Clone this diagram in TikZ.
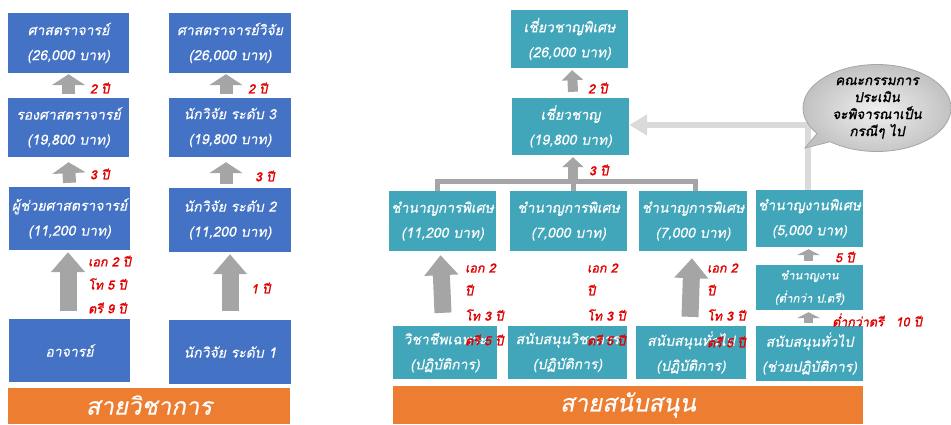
\documentclass[tikz,border=0pt]{standalone}
\usepackage{fontspec}
\newfontfamily\thi[Script=Thai,FakeSlant=0.2,FakeBold=0.4]{Loma}
\newfontfamily\thbi[Script=Thai,FakeSlant=0.2,FakeBold=1.6]{Loma}
\usetikzlibrary{arrows.meta,shapes.callouts,shadings}
\definecolor{bluebox}{RGB}{68,114,196}
\definecolor{tealbox}{RGB}{65,166,186}
\definecolor{orangebar}{RGB}{237,125,49}
\definecolor{arrowgray}{RGB}{165,165,165}
\definecolor{lightgraytwo}{RGB}{218,218,218}
\definecolor{redlab}{RGB}{225,0,0}
\tikzset{
 box/.style={text=white, inner sep=0pt, align=center, font=\thi\fontsize{14}{25}\selectfont},
 bluebx/.style={box, fill=bluebox},
 tealbx/.style={box, fill=tealbox},
 barbx/.style={fill=orangebar, text=white, inner sep=0pt, font=\thi\fontsize{24}{28}\selectfont},
 bigup/.style={draw=arrowgray, line width=17pt, -{Triangle[width=33pt,length=20pt]}},
 smallup/.style={draw=arrowgray, line width=13pt, -{Triangle[width=33pt,length=11pt]}},
 midup/.style={draw=arrowgray, line width=10pt, -{Triangle[width=21pt,length=10pt]}},
 tinyup/.style={draw=arrowgray, line width=9pt, -{Triangle[width=23pt,length=6pt]}},
 lab/.style={text=redlab, anchor=west, inner sep=0pt, font=\thbi\fontsize{12.5}{14}\selectfont},
 barline/.style={draw=arrowgray, line width=5pt},
 lgline/.style={draw=lightgraytwo, line width=6pt, -{Triangle[width=20pt,length=18pt]}},
}
\begin{document}
\begin{tikzpicture}[x=1pt,y=-1pt]
\useasboundingbox (0,0) rectangle (951,424);
% left: academic
\node[bluebx, minimum width=121pt, minimum height=60pt] (L1) at (68.5,43) {ศาสตราจารย์\\(26,000 บาท)};
\node[bluebx, minimum width=121pt, minimum height=59pt] (L2) at (68.5,127.5) {รองศาสตราจารย์\\(19,800 บาท)};
\node[bluebx, minimum width=121pt, minimum height=63pt] (L3) at (69.5,218.5) {ผู้ช่วยศาสตราจารย์\\(11,200 บาท)};
\node[bluebx, minimum width=121pt, minimum height=63pt] (L4) at (69.5,350.5) {อาจารย์};
\node[bluebx, minimum width=122pt, minimum height=60pt] (R1) at (230,43) {ศาสตราจารย์วิจัย\\(26,000 บาท)};
\node[bluebx, minimum width=122pt, minimum height=59pt] (R2) at (230,127.5) {นักวิจัย ระดับ 3\\(19,800 บาท)};
\node[bluebx, minimum width=122pt, minimum height=64pt] (R3) at (230,220) {นักวิจัย ระดับ 2\\(11,200 บาท)};
\node[bluebx, minimum width=122pt, minimum height=64pt] (R4) at (230,352) {นักวิจัย ระดับ 1};
\node[barbx, minimum width=282pt, minimum height=36pt] (SL) at (149,406) {\raisebox{2pt}{สายวิชาการ}};
\draw[smallup] ([yshift=4pt]L2.north) -- ([yshift=-1pt]L1.south);
\draw[smallup] ([yshift=4pt]L3.north) -- ([yshift=-5pt]L2.south);
\draw[bigup] ([xshift=-1.5pt,yshift=8pt]L4.north) -- ([xshift=-1.5pt,yshift=-2pt]L3.south);
\draw[smallup] ([xshift=-4pt,yshift=4pt]R2.north) -- ([xshift=-4pt,yshift=-1pt]R1.south);
\draw[smallup] ([xshift=-4pt,yshift=4pt]R3.north) -- ([xshift=-4pt,yshift=-5pt]R2.south);
\draw[bigup] ([yshift=9pt]R4.north) -- ([yshift=-2pt]R3.south);
\node[lab] (la1) at (90,88) {2 ปี};
\node[lab] (la2) at (90,174) {3 ปี};
\node[lab] (la3) at (88,261) {เอก 2 ปี};
\node[lab] (la4) at (88,284) {โท 5 ปี};
\node[lab] (la5) at (88,308) {ตรี 9 ปี};
\node[lab] (lb1) at (248,88) {2 ปี};
\node[lab] (lb2) at (255,176) {3 ปี};
\node[lab] (lb3) at (251,288) {1 ปี};
% right: support
\node[tealbx, minimum width=117pt, minimum height=58pt] (E1) at (569.5,39) {เชี่ยวชาญพิเศษ\\(26,000 บาท)};
\node[tealbx, minimum width=117pt, minimum height=57pt] (E2) at (570.5,126.5) {เชี่ยวชาญ\\(19,800 บาท)};
\node[tealbx, minimum width=107pt, minimum height=60pt] (A1) at (442.5,221) {ชำนาญการพิเศษ\\(11,200 บาท)};
\node[tealbx, minimum width=117pt, minimum height=60pt] (B1) at (568.5,221) {ชำนาญการพิเศษ\\(7,000 บาท)};
\node[tealbx, minimum width=108pt, minimum height=60pt] (C1) at (693,221) {ชำนาญการพิเศษ\\(7,000 บาท)};
\node[tealbx, minimum width=107pt, minimum height=57pt] (D1) at (809.5,218.5) {ชำนาญงานพิเศษ\\(5,000 บาท)};
\node[tealbx, minimum width=107pt, minimum height=45pt, font=\thi\fontsize{11.5}{23}\selectfont] (D2) at (809.5,287.5) {ชำนาญงาน\\(ต่ำกว่า ป.ตรี)};
\node[tealbx, minimum width=104pt, minimum height=53pt] (A0) at (445,352.5) {วิชาชีพเฉพาะ\\(ปฏิบัติการ)};
\node[tealbx, minimum width=119pt, minimum height=53pt] (B0) at (567.5,352.5) {สนับสนุนวิชาการ\\(ปฏิบัติการ)};
\node[tealbx, minimum width=110pt, minimum height=53pt] (C0) at (691,352.5) {สนับสนุนทั่วไป\\(ปฏิบัติการ)};
\node[tealbx, minimum width=107pt, minimum height=55pt] (D0) at (809.5,353.5) {สนับสนุนทั่วไป\\(ช่วยปฏิบัติการ)};
\node[barbx, minimum width=470pt, minimum height=38pt] (SR) at (628,405) {\raisebox{2pt}{สายสนับสนุน}};
\coordinate (barmid) at (573,182);
\draw[barline] ([xshift=-5.5pt]A1.north) -- ++(0,-9) -| ([xshift=2pt]C1.north);
\draw[barline] ([xshift=4.5pt]B1.north) -- (barmid);
\draw[midup] ([xshift=2.5pt,yshift=6pt]E2.north) -- ([xshift=2.5pt,yshift=-2pt]E1.south);
\draw[midup] ([yshift=2pt]barmid) -- ([xshift=2.5pt,yshift=-2pt]E2.south);
\draw[bigup] ([xshift=-2pt,yshift=13pt]A0.north) -- ([xshift=-2pt,yshift=-4pt]A1.south);
\draw[bigup] ([xshift=-1pt,yshift=9pt]C0.north) -- ([xshift=-1pt,yshift=-7pt]C1.south);
\draw[tinyup] ([xshift=-1pt,yshift=4pt]D2.north) -- ([xshift=-1pt,yshift=-2pt]D1.south);
\draw[tinyup] ([xshift=-1pt,yshift=3pt]D0.north) -- ([xshift=-1pt,yshift=-2pt]D2.south);
\draw[lgline] ([xshift=-1.5pt]D1.north) |- ([yshift=1.5pt]E2.east);
\coordinate (tailpt) at (805,148);
\node[ellipse callout, draw=gray!70, line width=0.8pt, inner color=gray!12, outer color=gray!48,
  minimum width=148pt, minimum height=87pt, callout absolute pointer=(tailpt),
  align=center, inner sep=0pt, text=black, font=\thbi\fontsize{13.5}{17}\selectfont] (bub) at (877,108)
  {คณะกรรมการ\\ประเมิน\\จะพิจารณาเป็น\\กรณีๆ ไป};
\node[lab] (m1) at (588,88) {2 ปี};
\node[lab] (m2) at (589,170) {3 ปี};
\node[lab] (a1) at (465,268) {เอก 2};
\node[lab] (a2) at (465,290) {ปี};
\node[lab] (a3) at (465,315) {โท 3 ปี};
\node[lab] (a4) at (465,340) {ตรี 5 ปี};
\node[lab] (b1) at (587,268) {เอก 2};
\node[lab] (b2) at (587,290) {ปี};
\node[lab] (b3) at (587,315) {โท 3 ปี};
\node[lab] (b4) at (587,340) {ตรี 5 ปี};
\node[lab] (c1) at (707,268) {เอก 2};
\node[lab] (c2) at (707,290) {ปี};
\node[lab] (c3) at (707,315) {โท 3 ปี};
\node[lab] (c4) at (707,342) {ตรี 5 ปี};
\node[lab] (d1) at (835,257) {5 ปี};
\node[lab] (d2) at (832,320) {ต่ำกว่าตรี\hspace{12pt}10 ปี};
\end{tikzpicture}
\end{document}
